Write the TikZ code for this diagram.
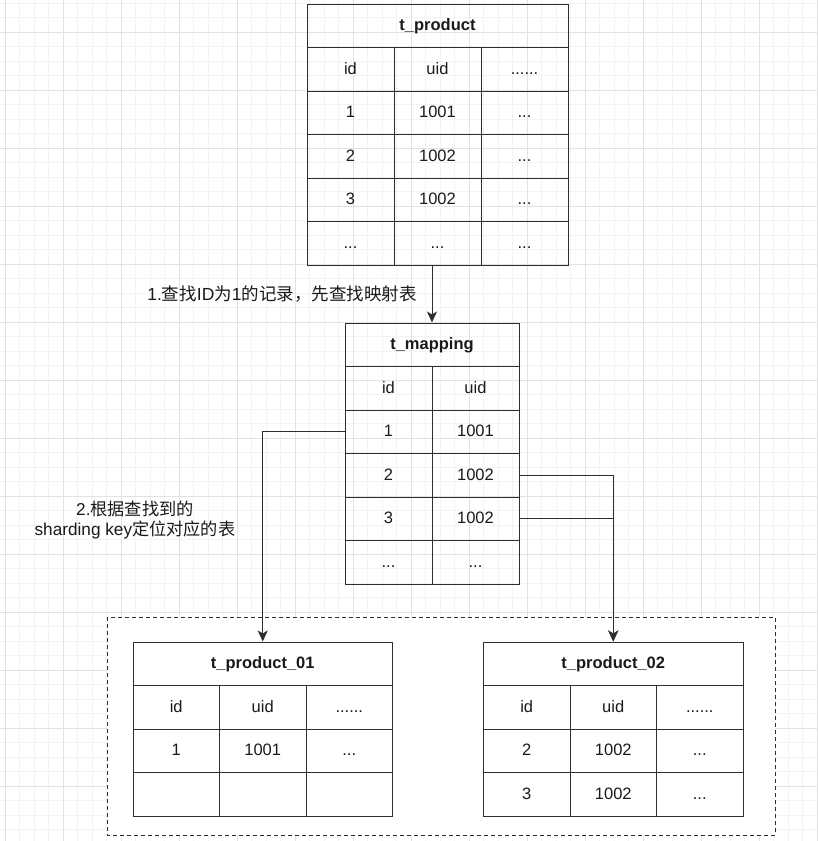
\documentclass[tikz,border=0pt]{standalone}
\usepackage{fontspec}
\setmainfont{Liberation Sans}
\newfontfamily\cjk{Noto Sans CJK SC}
\usepackage{xcolor}
\usetikzlibrary{arrows.meta,positioning}
\definecolor{ink}{HTML}{1A1A1A}
\definecolor{edge}{HTML}{2E2E2E}
\definecolor{majorgrid}{HTML}{E2E2E2}
\definecolor{minorgrid}{HTML}{F3F3F3}
\newcommand{\rowmore}{...}
\newcommand{\colmore}{......}
\newcommand{\blank}{}

\begin{document}
\begin{tikzpicture}[
  x=1pt,y=-1pt,
  font=\fontsize{16.5}{19.5}\selectfont,
  text=ink,
  cell/.style={
    draw=edge,
    line width=1pt,
    minimum width=87pt,
    minimum height=43.5pt,
    text height=12pt,
    text depth=2pt,
    inner sep=0pt
  },
  narrow/.style={cell,minimum width=86.5pt},
  head/.style={cell,minimum width=#1,font=\fontsize{16.5}{19.5}\selectfont\bfseries},
  arrow/.style={-{Stealth[length=11pt,width=10pt,inset=3pt]},line width=1pt,draw=edge},
  group/.style={draw=edge,line width=1pt,dash pattern=on 4pt off 3pt,fill=white}
]
\useasboundingbox[fill=white] (0,0) rectangle (817,841);

% background grid
\foreach \i in {0,...,56} \draw[minorgrid,line width=0.8pt] ({5+14.5*\i},0) -- ({5+14.5*\i},841);
\foreach \i in {0,...,57} \draw[minorgrid,line width=0.8pt] (0,{3+14.5*\i}) -- (817,{3+14.5*\i});
\foreach \i in {0,...,14} \draw[majorgrid,line width=0.8pt] ({5+58*\i},0) -- ({5+58*\i},841);
\foreach \i in {0,...,13} \draw[majorgrid,line width=0.8pt] (0,{32+58*\i}) -- (817,{32+58*\i});

% source table
\node[head=261pt] (prod-title) at (437.5,25.75) {t\_product};
\foreach \a/\b/\c [count=\r from 0] in {id/uid/\colmore, 1/1001/\rowmore, 2/1002/\rowmore, 3/1002/\rowmore, \rowmore/\rowmore/\rowmore} {
  \node[cell] (prod-\r-1) at (350.5,{69.25+43.5*\r}) {\a};
  \node[cell] (prod-\r-2) at (437.5,{69.25+43.5*\r}) {\b};
  \node[cell] (prod-\r-3) at (524.5,{69.25+43.5*\r}) {\c};
}

% mapping table
\node[head=174pt] (map-title) at (432,344.75) {t\_mapping};
\foreach \a/\b [count=\r from 0] in {id/uid, 1/1001, 2/1002, 3/1002, \rowmore/\rowmore} {
  \node[cell] (map-\r-1) at (388.5,{388.25+43.5*\r}) {\a};
  \node[cell] (map-\r-2) at (475.5,{388.25+43.5*\r}) {\b};
}

% shards
\draw[group] (107,617) rectangle (775,835);

\node[head=259.5pt] (p1-title) at (262.75,663.75) {t\_product\_01};
\foreach \a/\b/\c [count=\r from 0] in {id/uid/\colmore, 1/1001/\rowmore, \blank/\blank/\blank} {
  \node[narrow] (p1-\r-1) at (176.25,{707.25+43.5*\r}) {\a};
  \node[narrow] (p1-\r-2) at (262.75,{707.25+43.5*\r}) {\b};
  \node[narrow] (p1-\r-3) at (349.25,{707.25+43.5*\r}) {\c};
}

\node[head=259.5pt] (p2-title) at (613.25,663.75) {t\_product\_02};
\foreach \a/\b/\c [count=\r from 0] in {id/uid/\colmore, 2/1002/\rowmore, 3/1002/\rowmore} {
  \node[narrow] (p2-\r-1) at (526.75,{707.25+43.5*\r}) {\a};
  \node[narrow] (p2-\r-2) at (613.25,{707.25+43.5*\r}) {\b};
  \node[narrow] (p2-\r-3) at (699.75,{707.25+43.5*\r}) {\c};
}

% lookups
\draw[arrow] (map-title.north |- prod-4-2.south) -- (map-title.north);
\node (step1) at (282,294) {\fontsize{17.5}{20}\selectfont 1.{\cjk 查找}ID{\cjk 为}1{\cjk 的记录，先查找映射表}};

\draw[arrow] (map-1-1.west) -| (p1-title.north);
\draw[arrow] (map-2-2.east) -| (p2-title.north);
\draw[arrow] (map-3-2.east) -| (p2-title.north);
\node[align=center,font=\fontsize{17.2}{20.5}\selectfont] (step2) at (135,520) {2.{\cjk 根据查找到的}\\sharding key{\cjk 定位对应的表}};
\end{tikzpicture}
\end{document}
